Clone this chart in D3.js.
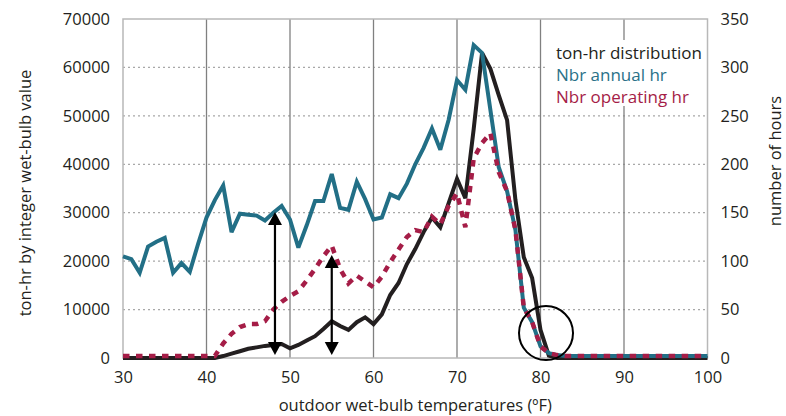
<!DOCTYPE html>
<html>
<head>
<meta charset="utf-8">
<script src="https://cdn.jsdelivr.net/npm/d3@7/dist/d3.min.js"></script>
<style>
  html, body { margin: 0; padding: 0; background: #fff; }
  svg { display: block; }
  text { font-family: "Open Sans", "Noto Sans", sans-serif; }
</style>
</head>
<body>
<svg id="chart" width="786" height="416"></svg>
<script>
// ---------------- DATA ----------------
const temps = [30,31,32,33,34,35,36,37,38,39,40,41,42,43,44,45,46,47,48,49,50,51,52,53,54,55,56,57,58,59,60,61,62,63,64,65,66,67,68,69,70,71,72,73,74,75,76,77,78,79,80,81,82,83,84,85,86,87,88,89,90,91,92,93,94,95,96,97,98,99,100];

// ton-hr distribution (left axis)
const tonHr = [0,0,0,0,0,0,0,0,0,0,0,0,
  400,900,1400,1900,2200,2500,2700,2900,2000,2700,3600,4500,6000,7600,6600,5800,7400,8400,7000,9000,13000,15500,19400,22500,26000,29000,27000,32000,37000,33000,47300,63000,59700,54300,49100,32600,20800,16500,5800,500,
  0,0,0,0,0,0,0,0,0,0,0,0,0,0,0,0,0,0,0];

// Nbr annual hr (right axis)
const annualHr = [105,102,88,115,120,124,88,98,89,118,145,163,178,130,149,148,147,142,150,157,143,114,137,162,162,190,155,153,182,164,143,145,169,165,180,200,217,237,215,246,287,277,323,315,256,197,172,132,52,37,12,5,3,
  2,2,2,2,2,2,2,2,2,2,2,2,2,2,2,2,2,2];

// Nbr operating hr (right axis)
const operatingHr = [2,2,2,2,2,2,2,2,2,2,2,2,
  15,25,32,35,35,38,50,58,64,69,80,92,105,116,92,77,85,79,73,84,99,112,125,132,130,146,138,157,170,135,206,222,232,192,172,132,52,37,12,5,3,
  2,2,2,2,2,2,2,2,2,2,2,2,2,2,2,2,2,2];

const xTicks = [30,40,50,60,70,80,90,100];
const leftTicks = [0,10000,20000,30000,40000,50000,60000,70000];
const rightTicks = [0,50,100,150,200,250,300,350];
const legendLabels = ["ton-hr distribution","Nbr annual hr","Nbr operating hr"];

// annotations (left-axis units)
const arrowX = [48.2, 55];
const arrowTop = [30150, 21270];
const arrowBottom = [600, 600];
const circleX = 80.66, circleY = 5160;

// ---------------- LAYOUT ----------------
const svg = d3.select("#chart");
const W = 786, H = 416;
const L = 123, R = 707.5, T = 19, B = 358;
const colBlack = "#231f20", colTeal = "#226f86", colRed = "#a51d47";
const fs = 16.5;

const x = d3.scaleLinear().domain([30,100]).range([L,R]);
const yL = d3.scaleLinear().domain([0,70000]).range([B,T]);
const yR = d3.scaleLinear().domain([0,350]).range([B,T]);

svg.append("rect").attr("width",W).attr("height",H).attr("fill","#fff");

// horizontal dotted grid
const gGrid = svg.append("g");
gGrid.selectAll("line.h").data(leftTicks.filter(d => d>0 && d<70000)).enter()
  .append("line").attr("class","h")
  .attr("x1",L).attr("x2",R).attr("y1",d=>yL(d)).attr("y2",d=>yL(d))
  .attr("stroke","#a8a8a8").attr("stroke-width",1.3).attr("stroke-dasharray","2,3");
// vertical grid
gGrid.selectAll("line.v").data(xTicks.filter(d => d>30 && d<100)).enter()
  .append("line").attr("class","v")
  .attr("x1",d=>x(d)).attr("x2",d=>x(d)).attr("y1",T).attr("y2",B)
  .attr("stroke","#808080").attr("stroke-width",1.3);

// frame
svg.append("rect").attr("x",L).attr("y",T).attr("width",R-L).attr("height",B-T)
  .attr("fill","none").attr("stroke","#b8b8b8").attr("stroke-width",1.5);

// axes (labels only)
const axL = d3.axisLeft(yL).tickValues(leftTicks).tickSize(0).tickPadding(13).tickFormat(d3.format("d"));
const gL = svg.append("g").attr("transform",`translate(${L},0)`).call(axL);
const axR = d3.axisRight(yR).tickValues(rightTicks).tickSize(0).tickPadding(13).tickFormat(d3.format("d"));
const gR = svg.append("g").attr("transform",`translate(${R},0)`).call(axR);
const axB = d3.axisBottom(x).tickValues(xTicks).tickSize(0).tickPadding(13).tickFormat(d3.format("d"));
const gB = svg.append("g").attr("transform",`translate(0,${B})`).call(axB);
[gL,gR,gB].forEach(g => {
  g.select(".domain").remove();
  g.selectAll("text").attr("font-size",fs).attr("fill",colBlack)
    .attr("font-family",'"Open Sans", sans-serif');
});

// axis titles
svg.append("text").attr("x",(L+R)/2).attr("y",411).attr("text-anchor","middle")
  .attr("font-size",fs).attr("fill",colBlack).text("outdoor wet-bulb temperatures (ºF)");
svg.append("text").attr("transform","translate(31,193) rotate(-90)").attr("text-anchor","middle")
  .attr("font-size",fs).attr("fill",colBlack).text("ton-hr by integer wet-bulb value");
svg.append("text").attr("transform","translate(781,161) rotate(-90)").attr("text-anchor","middle")
  .attr("font-size",fs).attr("fill",colBlack).text("number of hours");

// lines
const lineL = d3.line().x((d,i)=>x(temps[i])).y(d=>yL(d));
const lineR = d3.line().x((d,i)=>x(temps[i])).y(d=>yR(d));

svg.append("path").datum(tonHr).attr("d",lineL)
  .attr("fill","none").attr("stroke",colBlack).attr("stroke-width",4).attr("stroke-linejoin","miter").attr("stroke-miterlimit",3);
svg.append("path").datum(annualHr).attr("d",lineR)
  .attr("fill","none").attr("stroke",colTeal).attr("stroke-width",4).attr("stroke-linejoin","miter").attr("stroke-miterlimit",3);
svg.append("path").datum(operatingHr).attr("d",lineR)
  .attr("fill","none").attr("stroke",colRed).attr("stroke-width",4.5).attr("stroke-dasharray","6.5,6.5").attr("stroke-linejoin","miter").attr("stroke-miterlimit",3);

// legend
const lg = svg.append("g");
lg.append("rect").attr("x",547).attr("y",40).attr("width",158).attr("height",66).attr("fill","#fff");
const legCols = [colBlack, "#2a7188", colRed];
lg.selectAll("text").data(legendLabels).enter().append("text")
  .attr("x",556).attr("y",(d,i)=>59+i*22)
  .attr("font-size",fs+0.5).attr("fill",(d,i)=>legCols[i]).text(d=>d);

// arrows
const ag = svg.append("g");
arrowX.forEach((ax,i) => {
  const px = x(ax), yt = yL(arrowTop[i]), yb = yL(arrowBottom[i]);
  ag.append("line").attr("x1",px).attr("x2",px).attr("y1",yt+8).attr("y2",yb-8)
    .attr("stroke","#000").attr("stroke-width",2.2);
  ag.append("path").attr("d",`M${px},${yt} L${px-7},${yt+13} L${px+7},${yt+13} Z`).attr("fill","#000");
  ag.append("path").attr("d",`M${px},${yb} L${px-7},${yb-13} L${px+7},${yb-13} Z`).attr("fill","#000");
});

// circle
svg.append("circle").attr("cx",x(circleX)).attr("cy",yL(circleY)).attr("r",27)
  .attr("fill","none").attr("stroke","#000").attr("stroke-width",2);
</script>
</body>
</html>
